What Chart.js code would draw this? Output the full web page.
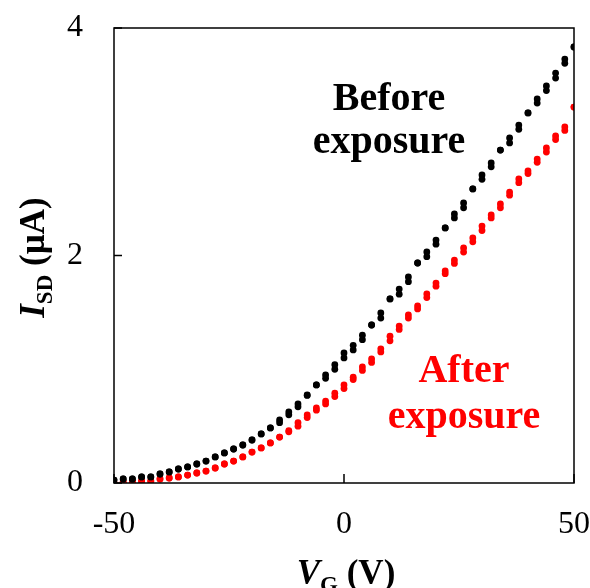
<!DOCTYPE html>
<html>
<head>
<meta charset="utf-8">
<script src="https://cdn.jsdelivr.net/npm/chart.js@4/dist/chart.umd.min.js"></script>
<style>
  body { margin: 0; background: #fff; }
  canvas { display: block; }
</style>
</head>
<body>
<canvas id="ivChart" width="590" height="588"></canvas>
<script>
// Gate voltage sweep (V)
const gateVoltage = [-50, -48, -46, -44, -42, -40, -38, -36, -34, -32, -30, -28, -26, -24, -22, -20, -18, -16, -14, -12,
  -10, -8, -6, -4, -2, 0, 2, 4, 6, 8, 10, 12, 14, 16, 18, 20, 22, 24, 26, 28, 30, 32, 34, 36, 38, 40, 42, 44, 46, 48, 50];

// I_SD (uA) before exposure, forward and return sweep
const beforeForward = [0.026, 0.035, 0.035, 0.053, 0.053, 0.079, 0.097, 0.123, 0.141, 0.167, 0.193, 0.229, 0.264, 0.299, 0.334, 0.378, 0.431, 0.484, 0.554, 0.624,
  0.695, 0.774, 0.862, 0.95, 1.04, 1.143, 1.21, 1.30, 1.389, 1.495, 1.618, 1.705, 1.811, 1.934, 2.031, 2.136, 2.242, 2.365, 2.462, 2.585, 2.708,
  2.813, 2.927, 3.033, 3.147, 3.253, 3.376, 3.49, 3.604, 3.727, 3.833];
const beforeReturn = [0.026, 0.035, 0.035, 0.053, 0.053, 0.079, 0.097, 0.123, 0.141, 0.167, 0.193, 0.229, 0.264, 0.299, 0.334, 0.378, 0.431, 0.484, 0.53, 0.60,
  0.67, 0.77, 0.862, 0.92, 1.00, 1.10, 1.17, 1.26, 1.389, 1.45, 1.618, 1.66, 1.77, 1.934, 1.99, 2.10, 2.242, 2.33, 2.42, 2.585, 2.67,
  2.78, 2.927, 2.99, 3.11, 3.253, 3.34, 3.45, 3.56, 3.69, 3.833];

// I_SD (uA) after exposure, forward and return sweep
const afterForward = [0.0, 0.009, 0.009, 0.018, 0.018, 0.035, 0.044, 0.053, 0.07, 0.088, 0.105, 0.132, 0.167, 0.193, 0.229, 0.272, 0.308, 0.352, 0.404, 0.46,
  0.53, 0.598, 0.66, 0.72, 0.79, 0.862, 0.93, 1.02, 1.09, 1.18, 1.29, 1.38, 1.477, 1.556, 1.662, 1.758, 1.864, 1.96, 2.066, 2.154, 2.259,
  2.356, 2.453, 2.558, 2.673, 2.743, 2.848, 2.945, 3.051, 3.13, 3.305];
const afterReturn = [0.0, 0.009, 0.009, 0.018, 0.018, 0.035, 0.044, 0.053, 0.07, 0.088, 0.105, 0.132, 0.167, 0.193, 0.229, 0.272, 0.308, 0.352, 0.404, 0.45,
  0.50, 0.575, 0.64, 0.695, 0.76, 0.83, 0.91, 0.99, 1.06, 1.152, 1.25, 1.35, 1.45, 1.53, 1.63, 1.73, 1.84, 1.93, 2.03, 2.12, 2.22,
  2.33, 2.42, 2.53, 2.64, 2.72, 2.82, 2.91, 3.02, 3.10, 3.305];

// tick labels
const xTicks = [-50, 0, 50];
const yTicks = [0, 2, 4];

function toPoints(ys) {
  return gateVoltage.map((v, i) => ({ x: v, y: ys[i] }));
}

function dotSet(ys, color) {
  return {
    data: toPoints(ys),
    showLine: false,
    pointStyle: 'circle',
    pointRadius: 3.4,
    pointBorderWidth: 0,
    backgroundColor: color,
    borderColor: color
  };
}

const serif = '"Liberation Serif", "Times New Roman", serif';

// frame, inner ticks, axis titles with subscripts, annotations
const decorPlugin = {
  id: 'decor',
  afterDraw(chart) {
    const ctx = chart.ctx;
    const area = chart.chartArea;
    const xs = chart.scales.x;
    const ys = chart.scales.y;
    ctx.save();
    ctx.strokeStyle = '#000';
    ctx.lineWidth = 1.5;
    ctx.strokeRect(area.left, area.top, area.right - area.left, area.bottom - area.top);

    ctx.beginPath();
    xTicks.forEach(v => {
      const px = xs.getPixelForValue(v);
      ctx.moveTo(px, area.bottom);
      ctx.lineTo(px, area.bottom - 9);
    });
    yTicks.forEach(v => {
      const py = ys.getPixelForValue(v);
      ctx.moveTo(area.left, py);
      ctx.lineTo(area.left + 8, py);
    });
    ctx.stroke();

    // write a run of text pieces starting at x, baseline y
    function runText(pieces, x, y) {
      let cx = x;
      pieces.forEach(p => {
        ctx.font = p.font;
        ctx.fillText(p.text, cx, y + (p.dy || 0));
        cx += ctx.measureText(p.text).width;
      });
    }
    function runWidth(pieces) {
      let w = 0;
      pieces.forEach(p => {
        ctx.font = p.font;
        w += ctx.measureText(p.text).width;
      });
      return w;
    }

    ctx.fillStyle = '#000';
    ctx.textBaseline = 'alphabetic';
    ctx.textAlign = 'left';

    // x axis title: V_G (V)
    const xTitle = [
      { text: 'V', font: 'italic bold 35px ' + serif },
      { text: 'G', font: 'bold 23px ' + serif, dy: 8 },
      { text: ' (V)', font: 'bold 35px ' + serif }
    ];
    const xw = runWidth(xTitle);
    runText(xTitle, (area.left + area.right) / 2 - xw / 2 + 2, 584);

    // y axis title: I_SD (uA), rotated
    const yTitle = [
      { text: 'I', font: 'italic bold 35px ' + serif },
      { text: 'SD', font: 'bold 23px ' + serif, dy: 8 },
      { text: ' (\u00b5A)', font: 'bold 35px ' + serif }
    ];
    const yw = runWidth(yTitle);
    ctx.save();
    ctx.translate(44, ys.getPixelForValue(2) + 2);
    ctx.rotate(-Math.PI / 2);
    runText(yTitle, -yw / 2, 0);
    ctx.restore();

    // annotations
    ctx.textAlign = 'center';
    ctx.font = 'bold 40px ' + serif;
    ctx.fillStyle = '#000';
    ctx.fillText('Before', 389, 110);
    ctx.fillText('exposure', 389, 153);
    ctx.fillStyle = '#ff0000';
    ctx.fillText('After', 464, 382);
    ctx.fillText('exposure', 464, 428);
    ctx.restore();
  }
};

new Chart(document.getElementById('ivChart'), {
  type: 'scatter',
  data: {
    datasets: [
      dotSet(beforeForward, '#000000'),
      dotSet(beforeReturn, '#000000'),
      dotSet(afterForward, '#ff0000'),
      dotSet(afterReturn, '#ff0000')
    ]
  },
  options: {
    responsive: false,
    animation: false,
    layout: { padding: { top: 28, right: 16, left: 0, bottom: 0 } },
    plugins: {
      legend: { display: false },
      tooltip: { enabled: false }
    },
    scales: {
      x: {
        type: 'linear',
        min: -50,
        max: 50,
        afterFit: s => {
          s.height = 105;
          s.paddingLeft = 0;
          s.paddingRight = 0;
        },
        afterBuildTicks: s => { s.ticks = xTicks.map(v => ({ value: v })); },
        grid: { display: false, drawTicks: false },
        border: { display: false },
        ticks: {
          color: '#000',
          padding: 22,
          maxRotation: 0,
          font: { family: serif, size: 32 }
        }
      },
      y: {
        type: 'linear',
        min: 0,
        max: 4,
        afterFit: s => {
          s.width = 114;
          s.paddingTop = 0;
          s.paddingBottom = 0;
        },
        afterBuildTicks: s => { s.ticks = yTicks.map(v => ({ value: v })); },
        grid: { display: false, drawTicks: false },
        border: { display: false },
        ticks: {
          color: '#000',
          padding: 31,
          font: { family: serif, size: 32 }
        }
      }
    }
  },
  plugins: [decorPlugin]
});
</script>
</body>
</html>
